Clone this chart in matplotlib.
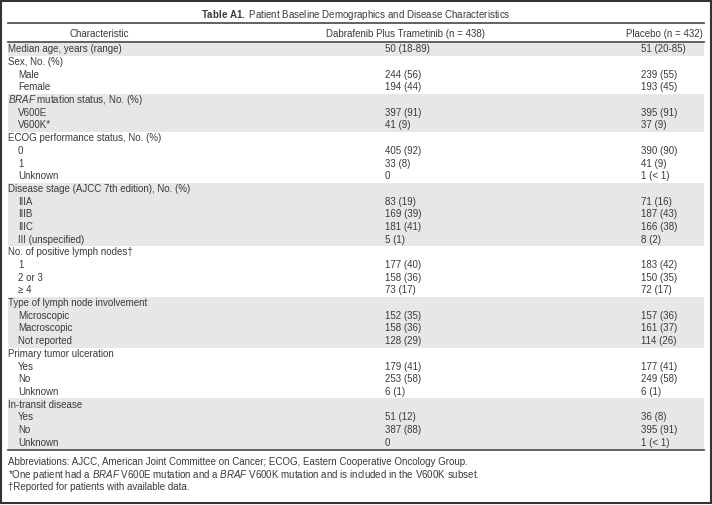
import matplotlib
matplotlib.use("Agg")
import matplotlib.pyplot as plt
from matplotlib.patches import Rectangle

plt.rcParams['font.family'] = ['Liberation Sans', 'DejaVu Sans']
plt.rcParams['mathtext.fontset'] = 'custom'
plt.rcParams['mathtext.rm'] = 'Liberation Sans'
plt.rcParams['mathtext.it'] = 'Liberation Sans:italic'
plt.rcParams['mathtext.bf'] = 'Liberation Sans:bold'

# datos de la tabla
titulo = r"$\mathbf{Table\ A1.}$ Patient Baseline Demographics and Disease Characteristics"
encabezados = ["Characteristic", "Dabrafenib Plus Trametinib (n = 438)", "Placebo (n = 432)"]

caracteristicas = [
    "Median age, years (range)",
    "Sex, No. (%)", "Male", "Female",
    r"$\mathit{BRAF}$ mutation status, No. (%)", "V600E", "V600K*",
    "ECOG performance status, No. (%)", "0", "1", "Unknown",
    "Disease stage (AJCC 7th edition), No. (%)", "IIIA", "IIIB", "IIIC", "III (unspecified)",
    "No. of positive lymph nodes†", "1", "2 or 3", "≥ 4",
    "Type of lymph node involvement", "Microscopic", "Macroscopic", "Not reported",
    "Primary tumor ulceration", "Yes", "No", "Unknown",
    "In-transit disease", "Yes", "No", "Unknown",
]
sangria = [0,
           0, 1, 1,
           0, 1, 1,
           0, 1, 1, 1,
           0, 1, 1, 1, 1,
           0, 1, 1, 1,
           0, 1, 1, 1,
           0, 1, 1, 1,
           0, 1, 1, 1]
dabrafenib = [
    "50 (18-89)",
    "", "244 (56)", "194 (44)",
    "", "397 (91)", "41 (9)",
    "", "405 (92)", "33 (8)", "0",
    "", "83 (19)", "169 (39)", "181 (41)", "5 (1)",
    "", "177 (40)", "158 (36)", "73 (17)",
    "", "152 (35)", "158 (36)", "128 (29)",
    "", "179 (41)", "253 (58)", "6 (1)",
    "", "51 (12)", "387 (88)", "0",
]
placebo = [
    "51 (20-85)",
    "", "239 (55)", "193 (45)",
    "", "395 (91)", "37 (9)",
    "", "390 (90)", "41 (9)", "1 (< 1)",
    "", "71 (16)", "187 (43)", "166 (38)", "8 (2)",
    "", "183 (42)", "150 (35)", "72 (17)",
    "", "157 (36)", "161 (37)", "114 (26)",
    "", "177 (41)", "249 (58)", "6 (1)",
    "", "36 (8)", "395 (91)", "1 (< 1)",
]
notas = [
    "Abbreviations: AJCC, American Joint Committee on Cancer; ECOG, Eastern Cooperative Oncology Group.",
    r"*One patient had a $\mathit{BRAF}$ V600E mutation and a $\mathit{BRAF}$ V600K mutation and is included in the V600K subset.",
    "†Reported for patients with available data.",
]

W, H = 712, 505
fig = plt.figure(figsize=(W / 100, H / 100), dpi=100)
ax = fig.add_axes([0, 0, 1, 1])
ax.set_xlim(0, W)
ax.set_ylim(H, 0)
ax.axis('off')

color_texto = '#3a3a3a'
gris = '#e6e7e8'
fs = 7.0

# marco
ax.add_patch(Rectangle((0.5, 0.5), W - 2, H - 2.5, fill=False, edgecolor='#333333', lw=1.5))

ax.text(W / 2, 15, titulo, ha='center', va='center', fontsize=fs, color=color_texto)
ax.plot([8, 704], [23, 23], color='#555555', lw=1.3)
ax.text(99, 34, encabezados[0], ha='center', va='center', fontsize=fs, color=color_texto)
ax.text(405, 34, encabezados[1], ha='center', va='center', fontsize=fs, color=color_texto)
ax.text(703, 34, encabezados[2], ha='right', va='center', fontsize=fs, color=color_texto)
ax.plot([8, 704], [42, 42], color='#555555', lw=1.3)

y0 = 43
alto = (449 - 43) / len(caracteristicas)

# bandas grises alternando por grupo
grupo = -1
for i, s in enumerate(sangria):
    if s == 0:
        grupo += 1
    if grupo % 2 == 0:
        ax.add_patch(Rectangle((8, y0 + i * alto), 696, alto, color=gris, lw=0))

for i, (c, d, p) in enumerate(zip(caracteristicas, dabrafenib, placebo)):
    y = y0 + (i + 0.5) * alto
    ax.text(8 + 10 * sangria[i], y, c, ha='left', va='center', fontsize=fs, color=color_texto)
    ax.text(385, y, d, ha='left', va='center', fontsize=fs, color=color_texto)
    ax.text(641, y, p, ha='left', va='center', fontsize=fs, color=color_texto)

ax.plot([8, 704], [449.5, 449.5], color='#555555', lw=1.3)

for k, n in enumerate(notas):
    ax.text(8, 462 + k * 12.7, n, ha='left', va='center', fontsize=fs, color=color_texto)

fig.savefig('out.png', dpi=100)
